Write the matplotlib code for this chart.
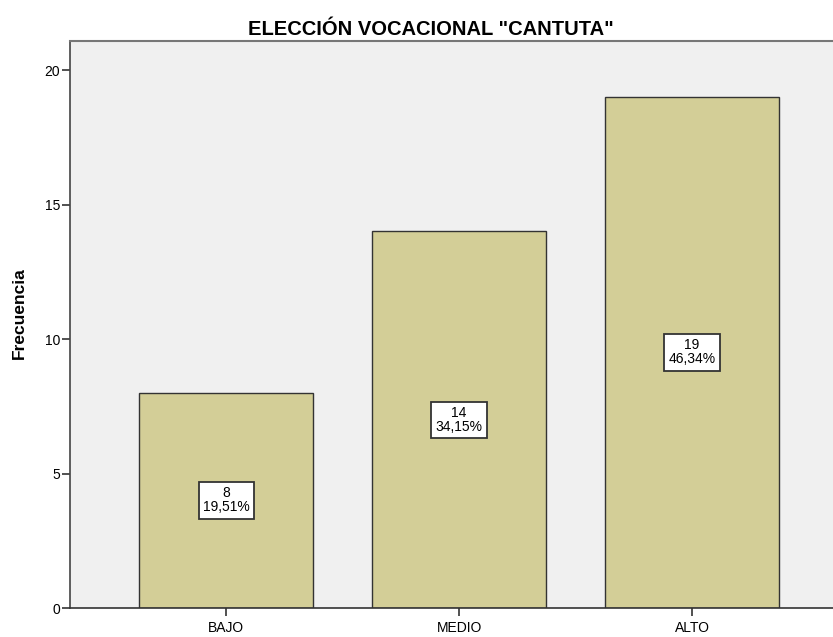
import numpy as np
import matplotlib.pyplot as plt

categorias = ['BAJO', 'MEDIO', 'ALTO']
frecuencias = [8, 14, 19]
porcentajes = ['19,51%', '34,15%', '46,34%']

plt.rcParams['font.family'] = 'Liberation Sans'

fig = plt.figure(figsize=(8.33, 6.37), dpi=100)
ax = fig.add_axes([70/833, 29/637, 1 - 70/833, (608 - 41)/637])
ax.set_facecolor('#F0F0F0')

x = np.arange(len(categorias))
ax.bar(x, frecuencias, width=0.747, color='#D3CE97', edgecolor='#333333', linewidth=1)

# etiquetas con frecuencia y porcentaje
for xi, f, p in zip(x, frecuencias, porcentajes):
    ax.text(xi, f / 2, f'{f}\n{p}', ha='center', va='center', fontsize=10,
            linespacing=1.0,
            bbox=dict(boxstyle='square,pad=0.3', fc='white', ec='#333333', lw=1.3))

ax.set_xlim(-0.67, 2.605)
ax.set_ylim(0, 21.08)
ax.set_yticks([0, 5, 10, 15, 20])
ax.set_xticks(x)
ax.set_xticklabels(categorias)
ax.tick_params(axis='y', direction='out', length=6, width=1.2, color='#333333',
               labelsize=10, pad=1)
ax.tick_params(axis='x', direction='out', length=6, width=1.2, color='#333333',
               labelsize=10, pad=3)

ax.spines['left'].set_color('#444444')
ax.spines['bottom'].set_color('#333333')
ax.spines['top'].set_color('#777777')
ax.spines['right'].set_visible(False)
ax.spines['top'].set_linewidth(1.5)
ax.spines['left'].set_linewidth(1.2)
ax.spines['bottom'].set_linewidth(1.2)

ax.set_ylabel('Frecuencia', fontsize=12.5, fontweight='bold')
ax.yaxis.set_label_coords(-0.056, 0.52)
fig.text(0.517, 0.954, 'ELECCIÓN VOCACIONAL "CANTUTA"', ha='center', va='center',
         fontsize=14.5, fontweight='bold')

fig.savefig('out.png', dpi=100)
